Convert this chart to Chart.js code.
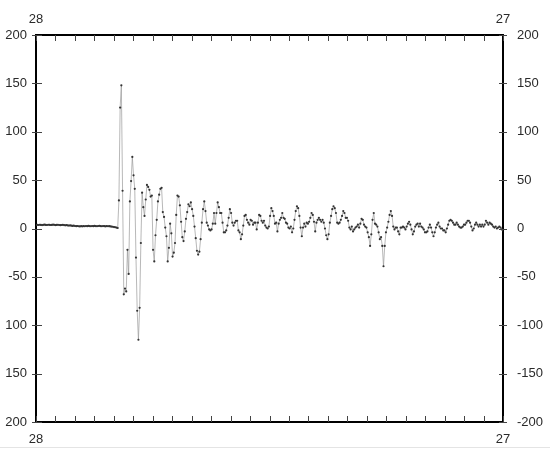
<!DOCTYPE html>
<html>
<head>
<meta charset="utf-8">
<script src="https://cdn.jsdelivr.net/npm/chart.js@4.4.1/dist/chart.umd.min.js"></script>
<style>
  html, body { margin: 0; padding: 0; background: #fff; }
  #wrap { width: 550px; height: 447px; border-bottom: 1px solid #e4e4e4; }
  canvas { display: block; }
</style>
</head>
<body>
<div id="wrap"><canvas id="c" width="550" height="447"></canvas></div>
<script>
// ---- data (amplitude samples) ----
const preEvent = [
  3.5,3.8,3.6,3.9,3.7,3.5,3.8,4.0,3.7,3.6,
  3.9,3.8,3.6,3.7,4.0,3.8,3.5,3.7,3.9,3.6,
  3.4,3.6,3.8,3.5,3.3,3.5,3.2,3.0,3.2,2.9,
  2.7,2.9,2.6,2.4,2.6,2.3,2.1,2.4,2.2,2.5,
  2.3,2.6,2.4,2.7,2.5,2.3,2.6,2.4,2.7,2.5,
  2.3,2.6,2.8,2.5,2.3,2.6,2.4,2.2,2.5,2.3,
  2.4,2.1,2.0,1.8,1.5,1.3,1.0,0.5
];
const onset = [
  29,125,148,39,-68,-62,-65,-22,-47,28,
  49,74,55,41,-30,-85,-115,-82,-15,37,
  22,13,30,45,43,40,33,34,-22,-34,
  -7,9,28,35,41,42,17,12,1,-8,
  -34,-20,5,-5,-29,-25,-15,14,34,33,
  24,7,-9,-13,-3,10,17,25
];
const coda1 = [
  23,27,20,13,2,-10,-23,-27,-24,-11,
  6,20,28,18,6,3,-1,-2,-1,5,
  16,5,16,27,22,16,16,6,-4,-4,
  -2,3,11,20,16,6,3,6,
  8,8,-2,-4,-11,-6,3,13,14,9,
  6,4,9,8,4,6,6,-1,6,14,
  13,8,6,8,3,1
];
const coda2 = [
  0,2,13,21,18,13,5,6,-3,5,
  9,11,16,11,10,6,5,1,
  0,2,-4,0,9,18,23,21,13,1,
  -8,1,5,2,6,5,7,11,16,14,
  7,-3,6,9,11,9,7,9,6,0,
  -7,-11,-6,6,13,20,23,21,16,6,
  5,6,9,13,18
];
const coda3 = [
  16,11,11,8,1,-1,2,-3,-1,1,
  2,4,1,5,10,9,4,2,1,-4,
  -9,-18,-6,9,16,5,4,2,-4,-11,
  -9,-18,-39,-18,-4,1,7,14,18,13,
  2,-1,1,1,-3,-6,1,1,2,1,
  -1,2,5,7,4,-1,-6,-3,2,4,
  5,2,5,2,1,-1,-4
];
const coda4 = [
  -4,-3,1,4,1,-4,-8,-4,1,4,
  6,2,0,0,-2,-2,-4,0,4,8,
  9,8,6,4,4,6,4,2,1,1,
  2,4,4,6,8,8,6,2,-2,0,
  4,6,4,2,4,2,4,2,4,8,
  6,4,6,5,4,2,1,2,0,1,
  2,1,-1,-2
];
const amplitude = [].concat(preEvent, onset, coda1, coda2, coda3, coda4);

// x axis: 24 minor divisions, labelled only at the ends
const xMin = 0, xMax = 24;
const xEndLabels = { 0: '28', 24: '27' };
// y axis tick labels (left side shows no minus below -50, as in the reference)
const yTickValues  = [200, 150, 100, 50, 0, -50, -100, -150, -200];
const yLeftLabels  = ['200','150','100','50','0','-50','100','150','200'];
const yRightLabels = ['200','150','100','50','0','-50','-100','-150','-200'];

// evenly sampled trace along the x axis
const n = amplitude.length;
const points = amplitude.map((v, i) => ({ x: xMin + i * (xMax - xMin) / (n - 1), y: v }));

const FONT = { family: 'Liberation Sans, Arial, sans-serif', size: 13 };
const LABEL_COLOR = '#2a2a2a';

const xLabel = (v) => (xEndLabels[v] !== undefined ? xEndLabels[v] : '');
const yLabel = (arr) => (v) => { const k = yTickValues.indexOf(v); return k >= 0 ? arr[k] : ''; };

const tickMarks = {
  id: 'tickMarks',
  afterDraw(chart) {
    const { ctx, chartArea: a, scales } = chart;
    ctx.save();
    ctx.strokeStyle = '#444';
    ctx.lineWidth = 1;
    ctx.beginPath();
    for (const t of scales.x.ticks) {
      const px = Math.round(scales.x.getPixelForValue(t.value)) + 0.5;
      ctx.moveTo(px, a.bottom); ctx.lineTo(px, a.bottom - 6);
      ctx.moveTo(px, a.top); ctx.lineTo(px, a.top + 6);
    }
    for (const t of scales.y.ticks) {
      const py = Math.round(scales.y.getPixelForValue(t.value)) + 0.5;
      ctx.moveTo(a.left - 4, py); ctx.lineTo(a.left + 6, py);
      ctx.moveTo(a.right - 4, py); ctx.lineTo(a.right + 4, py);
    }
    ctx.stroke();
    ctx.restore();
  }
};

const common = {
  grid: { display: false, drawTicks: false },
  border: { display: true, color: '#000', width: 2 }
};

new Chart(document.getElementById('c').getContext('2d'), {
  type: 'line',
  data: {
    datasets: [{
      data: points,
      xAxisID: 'x',
      yAxisID: 'y',
      borderColor: '#9a9a9a',
      borderWidth: 0.7,
      pointRadius: 1.1,
      pointBackgroundColor: '#333',
      pointBorderWidth: 0,
      tension: 0,
      fill: false
    }]
  },
  options: {
    responsive: false,
    animation: false,
    devicePixelRatio: 1,
    layout: { padding: 0 },
    plugins: { legend: { display: false }, tooltip: { enabled: false } },
    scales: {
      x: {
        type: 'linear', position: 'bottom', min: xMin, max: xMax,
        afterFit(s) { s.height = 25; },
        ...common,
        ticks: { stepSize: 1, autoSkip: false, maxRotation: 0, padding: 10, color: LABEL_COLOR, font: FONT, callback: xLabel }
      },
      x2: {
        type: 'linear', position: 'top', min: xMin, max: xMax,
        afterFit(s) { s.height = 35; },
        ...common,
        ticks: { stepSize: 1, autoSkip: false, maxRotation: 0, padding: 8, color: LABEL_COLOR, font: FONT, callback: xLabel }
      },
      y: {
        type: 'linear', position: 'left', min: -200, max: 200,
        afterFit(s) { s.width = 36; },
        ...common,
        ticks: { stepSize: 50, padding: 9, color: LABEL_COLOR, font: FONT, callback: yLabel(yLeftLabels) }
      },
      y2: {
        type: 'linear', position: 'right', min: -200, max: 200,
        afterFit(s) { s.width = 47; },
        ...common,
        ticks: { stepSize: 50, padding: 14, color: LABEL_COLOR, font: FONT, callback: yLabel(yRightLabels) }
      }
    }
  },
  plugins: [tickMarks]
});
</script>
</body>
</html>
